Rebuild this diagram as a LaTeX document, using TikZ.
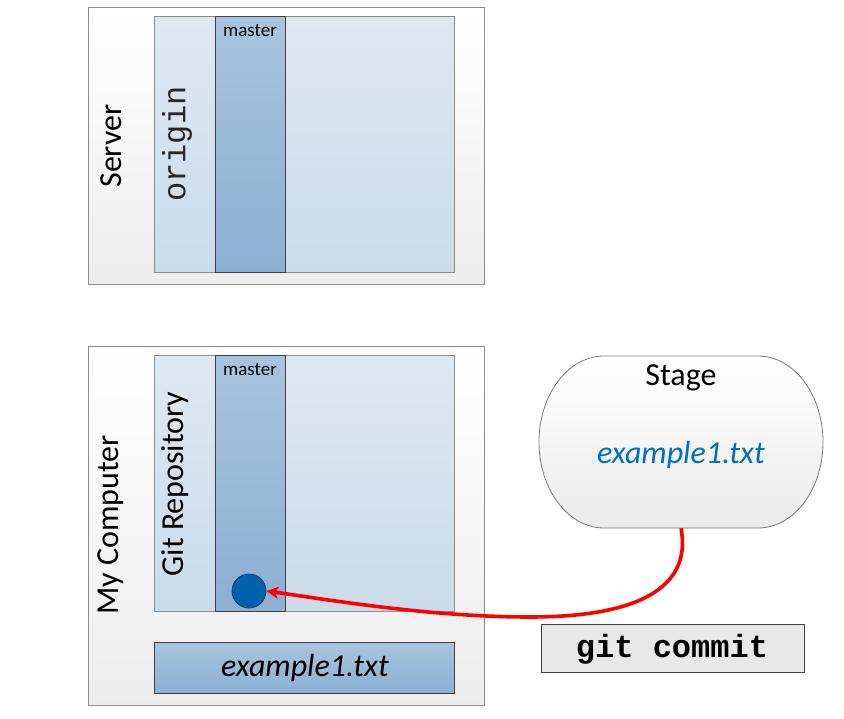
\documentclass[tikz,border=0pt]{standalone}
\usepackage{fontspec}
\setmainfont{Carlito}
\newfontfamily\monofont{Liberation Mono}
\usetikzlibrary{arrows.meta}
\definecolor{bordergray}{HTML}{8C8C8C}
\definecolor{darkborder}{HTML}{404040}
\definecolor{lightblueT}{HTML}{DFE8F1}
\definecolor{lightblueB}{HTML}{CADBEB}
\definecolor{midblueT}{HTML}{A9C4DE}
\definecolor{midblueB}{HTML}{8CAFD3}
\definecolor{dotblue}{HTML}{0062AE}
\definecolor{dotedge}{HTML}{1F3F60}
\definecolor{stagetext}{HTML}{0070C0}
\definecolor{cmdgray}{HTML}{E8E8E8}
\begin{document}
\begin{tikzpicture}[x=1pt,y=-1pt,
  outerbox/.style={draw=bordergray, line width=0.8pt, top color=white, bottom color=black!7, anchor=north west, inner sep=0pt},
  repobox/.style={draw=bordergray, line width=0.8pt, top color=lightblueT, bottom color=lightblueB, anchor=north west, inner sep=0pt},
  branchcol/.style={draw=darkborder, line width=0.8pt, top color=midblueT, bottom color=midblueB, anchor=north west, inner sep=0pt},
  biglabel/.style={font=\fontsize{32}{38}\selectfont, rotate=90, inner sep=0pt},
  smalllabel/.style={font=\fontsize{19}{22}\selectfont, inner sep=0pt},
  commitdot/.style={circle, draw=dotedge, line width=0.8pt, fill=dotblue, minimum size=34pt, inner sep=0pt},
  cmdbox/.style={draw=darkborder, line width=0.8pt, fill=cmdgray, anchor=north west, inner sep=0pt},
  link/.style={draw=red, line width=3.6pt, -{Stealth[length=12pt,width=12pt,inset=3pt]}}
]
\useasboundingbox (0,0) rectangle (844,719);

% Server
\node[outerbox, minimum width=396pt, minimum height=277pt] (server) at (88,7) {};
\node[repobox, minimum width=300pt, minimum height=256pt] (origin) at (154,16) {};
\node[branchcol, minimum width=70pt, minimum height=256pt] (smaster) at (215,16) {};
\node[smalllabel] (smasterlbl) at (250,31) {master};
\node[biglabel] (serverlbl) at (111,146) {Server};
\node[biglabel, font=\fontsize{32}{38}\monofont, text=black!85] (originlbl) at (177,144) {origin};

% My Computer
\node[outerbox, minimum width=396pt, minimum height=359pt] (computer) at (88,346) {};
\node[repobox, minimum width=300pt, minimum height=256pt] (repo) at (154,355) {};
\node[branchcol, minimum width=70pt, minimum height=256pt] (lmaster) at (215,355) {};
\node[smalllabel] (lmasterlbl) at (250,370) {master};
\node[biglabel] (repolbl) at (175,484) {Git Repository};
\node[biglabel] (complbl) at (111,525) {My Computer};
\node[commitdot] (commit) at (249,591) {};
\node[branchcol, minimum width=300pt, minimum height=51pt] (workfile) at (154,642) {};
\node[font=\fontsize{32}{38}\selectfont\itshape, inner sep=0pt] (worklbl) at (305,668) {example1.txt};

% Stage
\path[draw=darkborder!70, line width=0.8pt, top color=white, bottom color=black!8]
  (604,356) -- (758,356) arc[start angle=-90, end angle=90, x radius=65, y radius=86]
  -- (604,528) arc[start angle=90, end angle=270, x radius=65, y radius=86] -- cycle;
\node[minimum width=284pt, minimum height=172pt, inner sep=0pt] (stage) at (681,442) {};
\node[font=\fontsize{32}{38}\selectfont, inner sep=0pt] (stagelbl) at (681,378) {Stage};
\node[font=\fontsize{32}{38}\selectfont\itshape, text=stagetext, inner sep=0pt] (stagefile) at (681,455) {example1.txt};

% git commit
\node[cmdbox, minimum width=263pt, minimum height=48pt] (cmd) at (541,624) {};
\node[font=\fontsize{32}{38}\monofont\bfseries, inner sep=0pt] (cmdlbl) at (672,649) {git commit};

% arrow
\coordinate (bend) at (530,617);
\draw[link] (stage.south) .. controls (690,575) and (660,617) .. (bend)
  .. controls (430,617) and (330,600) .. (commit.east);
\end{tikzpicture}
\end{document}
